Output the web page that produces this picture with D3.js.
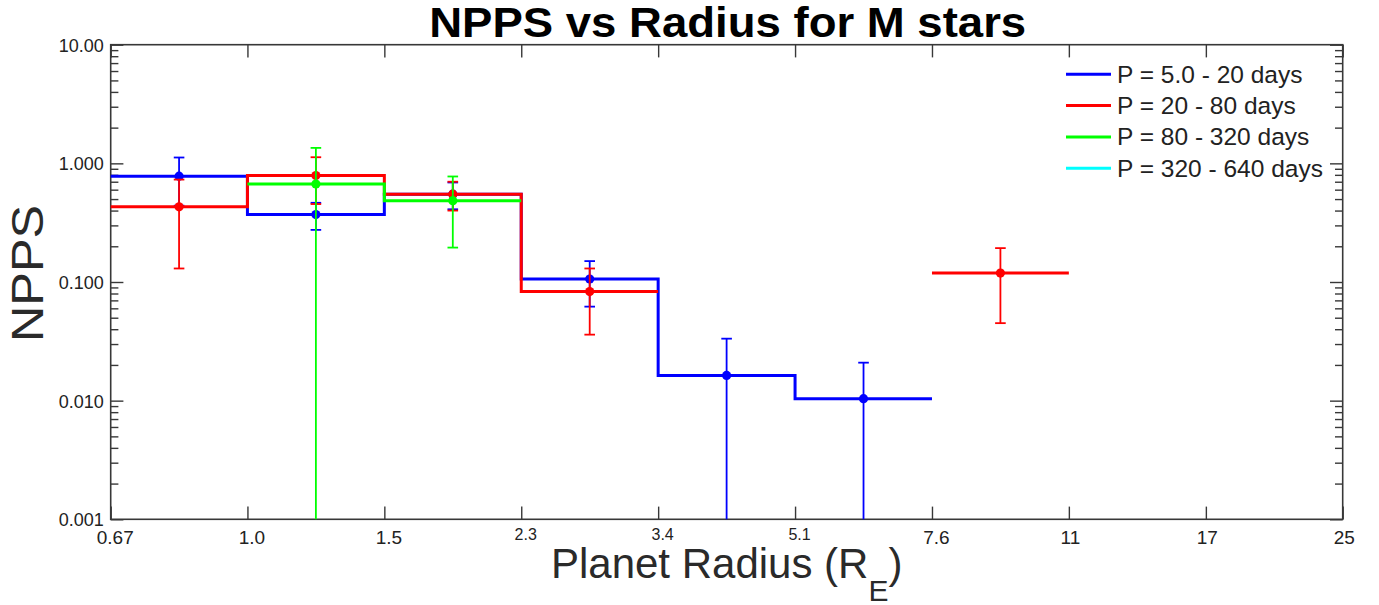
<!DOCTYPE html>
<html>
<head>
<meta charset="utf-8">
<script src="https://cdn.jsdelivr.net/npm/d3@7"></script>
<style>
  html, body { margin: 0; padding: 0; background: #ffffff; }
  svg { display: block; }
  text { font-family: "Liberation Sans", Arial, Helvetica, sans-serif; }
</style>
</head>
<body>
<svg id="chart" width="1379" height="605"></svg>
<script>
// ---------------- data ----------------
const binEdges = [0.667, 1.0, 1.5, 2.25, 3.375, 5.0625, 7.594, 11.39, 17.09, 25.63];
const xTickLabels = ["0.67", "1.0", "1.5", "2.3", "3.4", "5.1", "7.6", "11", "17", "25"];
const yMajorTicks = [0.001, 0.01, 0.1, 1, 10];
const yTickLabels = ["0.001", "0.010", "0.100", "1.000", "10.00"];

const seriesNames = ["P = 5.0 - 20 days", "P = 20 - 80 days", "P = 80 - 320 days", "P = 320 - 640 days"];
const seriesColors = ["#0000ff", "#ff0000", "#00ff00", "#00ffff"];

const blueValues = [0.78, 0.37, 0.55, 0.106, 0.0163, 0.0104, null, null, null];
const blueErrors = [0.34, 0.095, 0.14, 0.044, 0.017, 0.0105, null, null, null];
const redValues = [0.43, 0.79, 0.55, 0.083, null, null, 0.119, null, null];
const redErrors = [0.30, 0.336, 0.15, 0.047, null, null, 0.074, null, null];
const greenValues = [null, 0.67, 0.485, null, null, null, null, null, null];
const greenErrors = [null, 0.68, 0.29, null, null, null, null, null, null];
const cyanValues = [null, null, null, null, null, null, null, null, null];
const cyanErrors = [null, null, null, null, null, null, null, null, null];

const seriesValues = [blueValues, redValues, greenValues, cyanValues];
const seriesErrors = [blueErrors, redErrors, greenErrors, cyanErrors];

// ---------------- layout ----------------
const L = 110.7, R = 1342.7, T = 44.7, B = 519.3;
const axisColor = "#383838";
const textColor = "#222222";

const svg = d3.select("#chart");

const x = d3.scaleLog().domain([binEdges[0], binEdges[binEdges.length - 1]]).range([L, R]);
const y = d3.scaleLog().domain([0.001, 10]).range([B, T]);

// minor y ticks
const yMinorTicks = [];
for (let d = 0; d < 4; d++) {
  const base = yMajorTicks[d];
  for (let k = 2; k <= 9; k++) yMinorTicks.push(base * k);
}

// ---------------- axes ----------------
const majorLen = 12.7, minorLen = 7.7;

function styleAxis(g) {
  g.select(".domain").remove();
  g.selectAll(".tick line").attr("stroke", axisColor).attr("stroke-width", 1.4);
  g.selectAll(".tick text").attr("fill", textColor);
}

// bottom
const gBottom = svg.append("g").attr("transform", `translate(0,${B})`)
  .call(d3.axisBottom(x).tickValues(binEdges)
    .tickFormat((d, i) => xTickLabels[i])
    .tickSizeInner(-majorLen).tickSizeOuter(0).tickPadding(11));
styleAxis(gBottom);
gBottom.selectAll(".tick text")
  .attr("font-size", (d, i) => (i >= 3 && i <= 5) ? 16 : 19)
  .attr("dy", (d, i) => (i >= 3 && i <= 5) ? "0.6em" : "0.71em")
  .attr("dx", (d, i) => xTickLabels[i].indexOf(".") >= 0 ? 4 : 1);

// top
const gTop = svg.append("g").attr("transform", `translate(0,${T})`)
  .call(d3.axisTop(x).tickValues(binEdges).tickFormat("")
    .tickSizeInner(-majorLen).tickSizeOuter(0));
styleAxis(gTop);

// left major
const gLeft = svg.append("g").attr("transform", `translate(${L},0)`)
  .call(d3.axisLeft(y).tickValues(yMajorTicks)
    .tickFormat((d, i) => yTickLabels[i])
    .tickSizeInner(-majorLen).tickSizeOuter(0).tickPadding(7));
styleAxis(gLeft);
gLeft.selectAll(".tick text").attr("font-size", 18).attr("dy", "0.36em");

// left minor
const gLeftMinor = svg.append("g").attr("transform", `translate(${L},0)`)
  .call(d3.axisLeft(y).tickValues(yMinorTicks).tickFormat("")
    .tickSizeInner(-minorLen).tickSizeOuter(0));
styleAxis(gLeftMinor);

// right major & minor
const gRight = svg.append("g").attr("transform", `translate(${R},0)`)
  .call(d3.axisRight(y).tickValues(yMajorTicks).tickFormat("")
    .tickSizeInner(-majorLen).tickSizeOuter(0));
styleAxis(gRight);
const gRightMinor = svg.append("g").attr("transform", `translate(${R},0)`)
  .call(d3.axisRight(y).tickValues(yMinorTicks).tickFormat("")
    .tickSizeInner(-minorLen).tickSizeOuter(0));
styleAxis(gRightMinor);

// frame
svg.append("rect")
  .attr("x", L).attr("y", T).attr("width", R - L).attr("height", B - T)
  .attr("fill", "none").attr("stroke", axisColor).attr("stroke-width", 1.6);

// ---------------- series ----------------
const plot = svg.append("g");
const capHalf = 5.3;

seriesValues.forEach((vals, si) => {
  const color = seriesColors[si];
  const errs = seriesErrors[si];

  // step line points
  const pts = [];
  vals.forEach((v, i) => {
    if (v == null) { pts.push(null); return; }
    pts.push([binEdges[i], v]);
    pts.push([binEdges[i + 1], v]);
  });
  const line = d3.line()
    .defined(d => d != null)
    .x(d => x(d[0])).y(d => y(d[1]));
  plot.append("path")
    .datum(pts)
    .attr("d", line)
    .attr("fill", "none")
    .attr("stroke", color)
    .attr("stroke-width", 3)
    .attr("stroke-linejoin", "miter")
    .attr("stroke-linecap", "butt");

  // error bars and points
  vals.forEach((v, i) => {
    if (v == null) return;
    const cx = x(Math.sqrt(binEdges[i] * binEdges[i + 1]));
    const e = errs[i];
    const hi = v + e;
    const loVal = v - e;
    const clipped = loVal <= y.domain()[0];
    const yHi = y(Math.min(hi, 10));
    const yLo = clipped ? B : y(loVal);
    plot.append("line")
      .attr("x1", cx).attr("x2", cx).attr("y1", yHi).attr("y2", yLo)
      .attr("stroke", color).attr("stroke-width", 1.8);
    plot.append("line")
      .attr("x1", cx - capHalf).attr("x2", cx + capHalf).attr("y1", yHi).attr("y2", yHi)
      .attr("stroke", color).attr("stroke-width", 1.8);
    if (!clipped) {
      plot.append("line")
        .attr("x1", cx - capHalf).attr("x2", cx + capHalf).attr("y1", yLo).attr("y2", yLo)
        .attr("stroke", color).attr("stroke-width", 1.8);
    }
    plot.append("circle")
      .attr("cx", cx).attr("cy", y(v)).attr("r", 4.6)
      .attr("fill", color);
  });
});

// ---------------- legend ----------------
const legend = svg.append("g");
seriesNames.forEach((name, i) => {
  const ly = 74.3 + i * 31.3;
  legend.append("line")
    .attr("x1", 1066).attr("x2", 1111).attr("y1", ly).attr("y2", ly)
    .attr("stroke", seriesColors[i]).attr("stroke-width", 3);
  legend.append("text")
    .attr("x", 1117).attr("y", ly + 8.4)
    .attr("font-size", 24.5)
    .attr("fill", textColor)
    .text(name);
});

// ---------------- titles ----------------
svg.append("text")
  .attr("x", 727.7).attr("y", 37.3)
  .attr("text-anchor", "middle")
  .attr("font-size", 42).attr("font-weight", "bold")
  .attr("fill", "#000")
  .attr("textLength", 597).attr("lengthAdjust", "spacingAndGlyphs")
  .text("NPPS vs Radius for M stars");

const xt = svg.append("text")
  .attr("x", 726.7).attr("y", 577.5)
  .attr("text-anchor", "middle")
  .attr("font-size", 42)
  .attr("fill", "#2a2a2a");
xt.append("tspan").text("Planet Radius (R");
xt.append("tspan").attr("font-size", 30).attr("dy", 23).text("E");
xt.append("tspan").attr("dy", -23).text(")");

svg.append("text")
  .attr("transform", "translate(43.3,273.5) rotate(-90)")
  .attr("text-anchor", "middle")
  .attr("font-size", 45)
  .attr("fill", "#2a2a2a")
  .attr("textLength", 137).attr("lengthAdjust", "spacingAndGlyphs")
  .text("NPPS");
</script>
</body>
</html>
